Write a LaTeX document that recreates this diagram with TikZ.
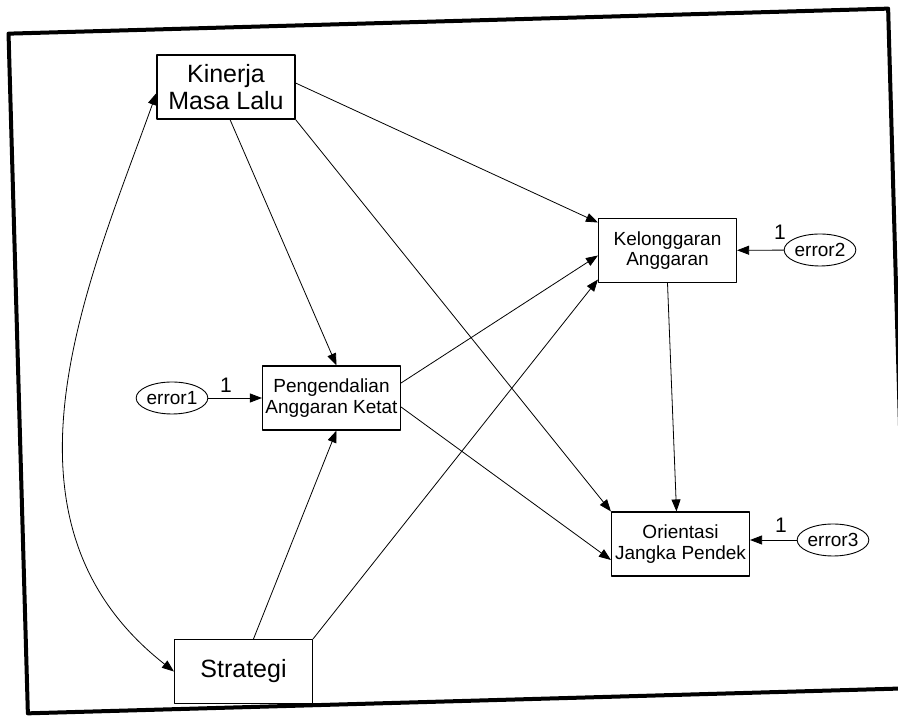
\documentclass[tikz,border=0pt]{standalone}
\usepackage{fontspec}
\setmainfont{Liberation Sans}
\usetikzlibrary{arrows.meta,shapes.geometric}

\tikzset{
    bigvar/.style={draw, line width=1.1pt, minimum width=138pt, minimum height=64pt,
        inner sep=1pt, align=center, font=\fontsize{25}{27}\selectfont},
    smallvar/.style={bigvar, font=\fontsize{19}{20.5}\selectfont},
    errvar/.style={draw, ellipse, line width=0.9pt, minimum width=66pt, minimum height=32pt,
        inner sep=0pt, font=\fontsize{19}{20}\selectfont},
    onelabel/.style={font=\fontsize{21}{21}\selectfont, inner sep=0pt},
    arr/.style={line width=0.8pt, -{Triangle[length=12pt,width=9pt]}}
}

\begin{document}
\begin{tikzpicture}[x=1pt, y=1pt, line cap=round, line join=round]

\useasboundingbox (0,0) rectangle (898,720);
\draw[line width=4pt, rotate around={1.63:(458,359)}] (18,19) rectangle (898,699);

\node[bigvar] (kinerja) at (226,633) {Kinerja\\Masa Lalu};
\node[smallvar] (pengendalian) at (331.5,322) {Pengendalian\\Anggaran Ketat};
\node[smallvar] (kelonggaran) at (667.5,469.5) {Kelonggaran\\Anggaran};
\node[smallvar] (orientasi) at (680.5,176) {Orientasi\\Jangka Pendek};
\node[bigvar] (strategi) at (243.5,48.5) {Strategi};

\node[errvar] (error1) at (172,322) {error1};
\node[errvar] (error2) at (820,470) {error2};
\node[errvar] (error3) at (833,180) {error3};

\node[onelabel] (one1) at (226,335) {1};
\node[onelabel] (one2) at (780,488) {1};
\node[onelabel] (one3) at (781,195) {1};

% paths from Kinerja Masa Lalu
\draw[arr] ([yshift=4pt]kinerja.east) -- ([yshift=28pt]kelonggaran.west);
\draw[arr] ([xshift=4pt]kinerja.south) -- ([xshift=5pt]pengendalian.north);
\draw[arr] (kinerja.south east) -- (orientasi.north west);
\draw[line width=0.8pt, {Triangle[length=12pt,width=9pt]}-{Triangle[length=12pt,width=9pt]}]
    ([yshift=-6pt]kinerja.west) .. controls +(-67,-187) and +(-194,152) .. (strategi.west);

% paths from Pengendalian Anggaran Ketat and Strategi
\draw[arr] ([yshift=15pt]pengendalian.east) -- ([yshift=-5pt]kelonggaran.west);
\draw[arr] ([yshift=-9pt]pengendalian.east) -- ([yshift=-16pt]orientasi.west);
\draw[arr] ([xshift=10pt]strategi.north) -- ([xshift=5pt]pengendalian.south);
\draw[arr] (strategi.north east) -- ([yshift=-29pt]kelonggaran.west);
\draw[arr] (kelonggaran.south) -- ([xshift=-4pt]orientasi.north);

% error terms
\draw[arr] (error1) -- (pengendalian);
\draw[arr] (error2) -- (kelonggaran);
\draw[arr] (error3.west) -- ([yshift=4pt]orientasi.east);

\end{tikzpicture}
\end{document}
